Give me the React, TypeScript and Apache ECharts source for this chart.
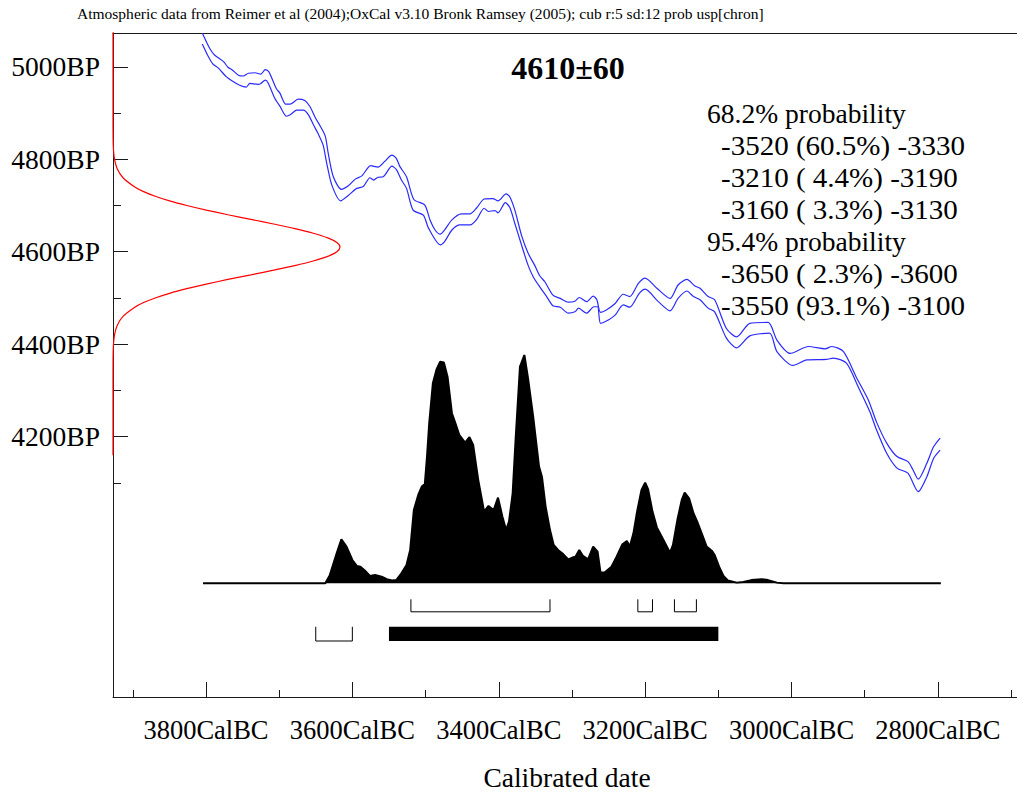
import React, { useEffect, useRef } from "react";
import * as echarts from "echarts";

const FONT = '"Liberation Serif", "Times New Roman", serif';

const HEADER =
  "Atmospheric data from Reimer et al (2004);OxCal v3.10 Bronk Ramsey (2005); cub r:5 sd:12 prob usp[chron]";
const DATE_TEXT = "4610±60";
const X_NAME = "Calibrated date";

const X_MAJOR = [3800, 3600, 3400, 3200, 3000, 2800];
const X_MINOR = [3900, 3700, 3500, 3300, 3100, 2900, 2700];
const Y_MAJOR = [4200, 4400, 4600, 4800, 5000];
const Y_MINOR = [4100, 4300, 4500, 4700, 4900];

const HEADING_68 = "68.2% probability";
const HEADING_95 = "95.4% probability";
// [from BC, to BC, percent]
const RANGES_68: number[][] = [
  [3520, 3330, 60.5],
  [3210, 3190, 4.4],
  [3160, 3130, 3.3],
];
const RANGES_95: number[][] = [
  [3650, 3600, 2.3],
  [3550, 3100, 93.1],
];

// radiocarbon measurement [BP, relative density]
const MEASUREMENT: number[][] = [
  [4160, 0], [4300, 0], [4360, 0.0002], [4380, 0.0006], [4400, 0.0022], [4420, 0.0066],
  [4440, 0.018], [4460, 0.044], [4480, 0.096], [4490, 0.135], [4500, 0.186], [4510, 0.249],
  [4520, 0.325], [4530, 0.411], [4540, 0.506], [4550, 0.607], [4560, 0.707], [4570, 0.801],
  [4580, 0.882], [4590, 0.946], [4600, 0.986], [4610, 1.0], [4620, 0.986], [4630, 0.946],
  [4640, 0.882], [4650, 0.801], [4660, 0.707], [4670, 0.607], [4680, 0.506], [4690, 0.411],
  [4700, 0.325], [4710, 0.249], [4720, 0.186], [4730, 0.135], [4740, 0.096], [4760, 0.044],
  [4780, 0.018], [4800, 0.0066], [4820, 0.0022], [4840, 0.0006], [4860, 0.0002], [4880, 0],
  [5080, 0],
];

// calibration curve, upper envelope [cal BC, BP]
const CURVE_UPPER: number[][] = [
  [3805, 5073], [3795, 5040], [3788, 5025], [3776, 5011], [3770, 4999], [3764, 4993],
  [3755, 4981], [3749, 4980], [3742, 4986], [3733, 4987], [3725, 4984], [3719, 4994],
  [3714, 4989], [3704, 4953], [3699, 4943], [3691, 4919], [3685, 4919], [3674, 4930],
  [3665, 4927], [3658, 4914], [3650, 4888], [3644, 4872], [3637, 4850], [3633, 4813],
  [3626, 4762], [3615, 4735], [3606, 4742], [3596, 4757], [3587, 4764], [3575, 4786],
  [3565, 4783], [3556, 4795], [3546, 4809], [3540, 4802], [3535, 4784], [3526, 4762],
  [3516, 4713], [3501, 4701], [3494, 4669], [3487, 4647], [3480, 4638], [3474, 4647],
  [3464, 4669], [3451, 4682], [3439, 4682], [3430, 4695], [3420, 4714], [3408, 4715],
  [3401, 4710], [3390, 4725], [3385, 4719], [3378, 4690], [3369, 4636], [3360, 4597],
  [3351, 4571], [3344, 4548], [3337, 4535], [3326, 4506], [3316, 4499], [3305, 4491],
  [3296, 4493], [3290, 4501], [3280, 4492], [3271, 4504], [3266, 4496], [3261, 4469],
  [3253, 4474], [3241, 4488], [3230, 4508], [3221, 4503], [3209, 4532], [3200, 4543],
  [3184, 4521], [3166, 4499], [3155, 4528], [3143, 4540], [3132, 4526], [3125, 4521],
  [3114, 4503], [3105, 4496], [3089, 4434], [3075, 4416], [3057, 4445], [3032, 4447],
  [3020, 4409], [3002, 4380], [2977, 4395], [2954, 4390], [2945, 4395], [2929, 4384],
  [2911, 4327], [2895, 4279], [2884, 4232], [2870, 4186], [2856, 4157], [2841, 4146],
  [2834, 4128], [2827, 4108], [2815, 4143], [2806, 4178], [2797, 4197],
];

// calibration curve, lower envelope [cal BC, BP]
const CURVE_LOWER: number[][] = [
  [3805, 5049], [3799, 5029], [3791, 5007], [3783, 4997], [3772, 4978], [3763, 4968],
  [3754, 4960], [3745, 4956], [3740, 4964], [3729, 4962], [3725, 4964], [3719, 4971],
  [3715, 4965], [3706, 4932], [3699, 4915], [3690, 4893], [3685, 4896], [3676, 4906],
  [3667, 4906], [3660, 4896], [3653, 4874], [3647, 4856], [3640, 4831], [3635, 4791],
  [3628, 4744], [3616, 4710], [3606, 4721], [3594, 4737], [3585, 4741], [3576, 4760],
  [3571, 4755], [3565, 4761], [3558, 4762], [3546, 4785], [3540, 4778], [3533, 4755],
  [3526, 4737], [3517, 4690], [3503, 4679], [3496, 4651], [3480, 4615], [3474, 4622],
  [3464, 4647], [3453, 4658], [3439, 4658], [3430, 4670], [3420, 4694], [3414, 4687],
  [3405, 4689], [3401, 4684], [3391, 4706], [3385, 4696], [3378, 4661], [3369, 4615],
  [3360, 4571], [3353, 4546], [3344, 4524], [3335, 4504], [3326, 4483], [3316, 4480],
  [3305, 4467], [3296, 4470], [3291, 4478], [3280, 4467], [3270, 4481], [3265, 4481],
  [3261, 4445], [3253, 4450], [3241, 4463], [3230, 4485], [3221, 4480], [3208, 4510],
  [3200, 4519], [3182, 4492], [3166, 4472], [3155, 4499], [3143, 4515], [3134, 4503],
  [3125, 4496], [3114, 4478], [3105, 4470], [3089, 4413], [3075, 4392], [3057, 4418],
  [3030, 4424], [3020, 4384], [2998, 4354], [2979, 4366], [2952, 4367], [2943, 4370],
  [2925, 4359], [2909, 4308], [2893, 4254], [2884, 4215], [2870, 4164], [2856, 4132],
  [2841, 4121], [2827, 4081], [2815, 4114], [2806, 4153], [2797, 4171],
];

// calibrated probability distribution [cal BC, relative probability]
const PROBABILITY: number[][] = [
  [3804, 0], [3637, 0], [3631, 0.034], [3621, 0.136], [3615, 0.193], [3608, 0.161],
  [3600, 0.102], [3594, 0.076], [3589, 0.073], [3583, 0.056], [3576, 0.032], [3569, 0.036],
  [3560, 0.029], [3553, 0.018], [3546, 0.012], [3540, 0.014], [3533, 0.044], [3526, 0.08],
  [3521, 0.146], [3516, 0.321], [3510, 0.387], [3505, 0.424], [3501, 0.435], [3498, 0.555],
  [3495, 0.701], [3490, 0.876], [3485, 0.937], [3480, 0.971], [3475, 0.967], [3470, 0.905],
  [3464, 0.745], [3460, 0.708], [3454, 0.65], [3446, 0.616], [3440, 0.64], [3435, 0.606],
  [3428, 0.452], [3420, 0.314], [3414, 0.339], [3407, 0.321], [3401, 0.375], [3395, 0.292],
  [3390, 0.233], [3386, 0.27], [3381, 0.394], [3377, 0.628], [3371, 0.949], [3365, 1.0],
  [3360, 0.898], [3353, 0.73], [3345, 0.511], [3341, 0.467], [3336, 0.336], [3330, 0.233],
  [3325, 0.168], [3319, 0.146], [3312, 0.128], [3305, 0.105], [3298, 0.114], [3295, 0.117],
  [3290, 0.146], [3285, 0.12], [3278, 0.105], [3271, 0.161], [3265, 0.139], [3261, 0.047],
  [3255, 0.048], [3246, 0.073], [3239, 0.117], [3231, 0.171], [3225, 0.185], [3221, 0.161],
  [3216, 0.219], [3211, 0.314], [3205, 0.409], [3200, 0.441], [3196, 0.412], [3190, 0.314],
  [3184, 0.245], [3175, 0.19], [3166, 0.134], [3162, 0.168], [3156, 0.277], [3150, 0.365],
  [3146, 0.397], [3140, 0.372], [3134, 0.307], [3128, 0.263], [3122, 0.212], [3116, 0.161],
  [3109, 0.143], [3105, 0.124], [3099, 0.073], [3093, 0.032], [3087, 0.012], [3075, 0.003],
  [3066, 0.006], [3055, 0.014], [3041, 0.018], [3032, 0.014], [3020, 0.003], [3011, 0],
  [2796, 0],
];

const fmtRange = (r: number[]) =>
  `-${r[0]} (${r[2].toFixed(1).padStart(4, " ")}%) -${r[1]}`;

export default function App() {
  const ref = useRef<HTMLDivElement>(null);

  useEffect(() => {
    if (!ref.current) return;
    const chart = echarts.init(ref.current, null, { renderer: "svg" });
    const axisColor = "#1a1a1a";
    const lineStyle = { color: axisColor, width: 1 };

    // row 0 = 68.2% ranges, row 1 = 95.4% ranges
    const rangeData = [
      ...RANGES_68.map((r) => [r[0], r[1], 0, r[2]]),
      ...RANGES_95.map((r) => [r[0], r[1], 1, r[2]]),
    ];

    const textLines: { text: string; indent: boolean }[] = [
      { text: HEADING_68, indent: false },
      ...RANGES_68.map((r) => ({ text: fmtRange(r), indent: true })),
      { text: HEADING_95, indent: false },
      ...RANGES_95.map((r) => ({ text: fmtRange(r), indent: true })),
    ];

    const graphics: any[] = [
      {
        type: "text",
        x: 77,
        y: 14,
        scaleX: 1.035,
        style: {
          text: HEADER,
          fontFamily: FONT,
          fontSize: 15,
          fill: "#000",
          align: "left",
          verticalAlign: "middle",
        },
      },
      {
        type: "text",
        x: 568,
        y: 68,
        style: {
          text: DATE_TEXT,
          fontFamily: FONT,
          fontSize: 32,
          fontWeight: "bold",
          fill: "#000",
          align: "center",
          verticalAlign: "middle",
        },
      },
      {
        type: "text",
        x: 567,
        y: 777,
        style: {
          text: X_NAME,
          fontFamily: FONT,
          fontSize: 27.5,
          fill: "#000",
          align: "center",
          verticalAlign: "middle",
        },
      },
      ...textLines.map((l, i) => ({
        type: "text",
        x: l.indent ? 721 : 707,
        y: 114 + i * 32,
        scaleX: l.indent ? 1.075 : 1.02,
        style: {
          text: l.text,
          fontFamily: FONT,
          fontSize: 27,
          fill: "#000",
          align: "left",
          verticalAlign: "middle",
        },
      })),
    ];

    chart.setOption({
      animation: false,
      backgroundColor: "#fff",
      textStyle: { fontFamily: FONT },
      grid: { left: 113, right: 0, top: 33, bottom: 95, containLabel: false },
      xAxis: [
        {
          type: "value",
          inverse: true,
          min: 2692,
          max: 3927,
          position: "bottom",
          axisLine: { show: true, onZero: false, lineStyle },
          axisTick: { show: true, inside: true, length: 15, customValues: X_MAJOR, lineStyle },
          axisLabel: {
            show: true,
            customValues: X_MAJOR,
            formatter: (v: number) => `${v}CalBC`,
            fontFamily: FONT,
            fontSize: 26.5,
            color: "#000",
            margin: 19,
          },
          splitLine: { show: false },
        },
        {
          type: "value",
          inverse: true,
          min: 2692,
          max: 3927,
          position: "bottom",
          axisLine: { show: false, onZero: false },
          axisTick: { show: true, inside: true, length: 7, customValues: X_MINOR, lineStyle },
          axisLabel: { show: false },
          splitLine: { show: false },
        },
        {
          type: "value",
          min: 0,
          max: 3.982,
          position: "top",
          axisLine: { show: true, onZero: false, lineStyle },
          axisTick: { show: false },
          axisLabel: { show: false },
          splitLine: { show: false },
        },
      ],
      yAxis: [
        {
          type: "value",
          min: 3637,
          max: 5073,
          position: "left",
          axisLine: { show: true, onZero: false, lineStyle },
          axisTick: { show: true, inside: true, length: 15, customValues: Y_MAJOR, lineStyle },
          axisLabel: {
            show: true,
            customValues: Y_MAJOR,
            formatter: (v: number) => `${v}BP`,
            fontFamily: FONT,
            fontSize: 27.5,
            color: "#000",
            margin: 13,
          },
          splitLine: { show: false },
        },
        {
          type: "value",
          min: 3637,
          max: 5073,
          position: "left",
          axisLine: { show: false, onZero: false },
          axisTick: { show: true, inside: true, length: 8, customValues: Y_MINOR, lineStyle },
          axisLabel: { show: false },
          splitLine: { show: false },
        },
        {
          type: "value",
          min: -0.498,
          max: 2.4104,
          show: false,
          axisLine: { onZero: false },
        },
      ],
      series: [
        {
          type: "line",
          xAxisIndex: 0,
          yAxisIndex: 2,
          data: PROBABILITY,
          symbol: "none",
          lineStyle: { color: "#000", width: 2 },
          areaStyle: { color: "#000", opacity: 1 },
          z: 3,
        },
        {
          type: "line",
          xAxisIndex: 0,
          yAxisIndex: 0,
          data: CURVE_UPPER,
          symbol: "none",
          smooth: 0.25,
          lineStyle: { color: "#2a2aff", width: 1.2 },
          z: 4,
        },
        {
          type: "line",
          xAxisIndex: 0,
          yAxisIndex: 0,
          data: CURVE_LOWER,
          symbol: "none",
          smooth: 0.25,
          lineStyle: { color: "#2a2aff", width: 1.2 },
          z: 4,
        },
        {
          type: "line",
          xAxisIndex: 2,
          yAxisIndex: 0,
          data: MEASUREMENT,
          encode: { x: 1, y: 0 },
          symbol: "none",
          smooth: 0.3,
          lineStyle: { color: "#ff0000", width: 1.2 },
          z: 5,
        },
        {
          type: "custom",
          xAxisIndex: 0,
          yAxisIndex: 2,
          clip: false,
          encode: { x: [0, 1], y: 2 },
          data: rangeData,
          renderItem: (_params: any, api: any) => {
            const from = api.value(0);
            const to = api.value(1);
            const row = api.value(2);
            const pct = api.value(3);
            const p0 = api.coord([from, 0]);
            const p1 = api.coord([to, 0]);
            const base = p0[1];
            const top = base + (row === 0 ? 16 : 43.5);
            const bottom = base + (row === 0 ? 28.5 : 57.7);
            const xa = Math.min(p0[0], p1[0]);
            const xb = Math.max(p0[0], p1[0]);
            if (row === 1 && pct > 50) {
              return {
                type: "rect",
                shape: { x: xa, y: top, width: xb - xa, height: bottom - top },
                style: { fill: "#000" },
              };
            }
            return {
              type: "polyline",
              shape: { points: [[xa, top], [xa, bottom], [xb, bottom], [xb, top]] },
              style: { stroke: "#000", lineWidth: 1, fill: null },
            };
          },
          z: 3,
        },
      ],
      graphic: graphics,
    });

    return () => chart.dispose();
  }, []);

  return (
    <div
      ref={ref}
      style={{
        position: "absolute",
        left: 0,
        top: 0,
        width: 1017,
        height: 792,
        background: "#fff",
      }}
    />
  );
}
